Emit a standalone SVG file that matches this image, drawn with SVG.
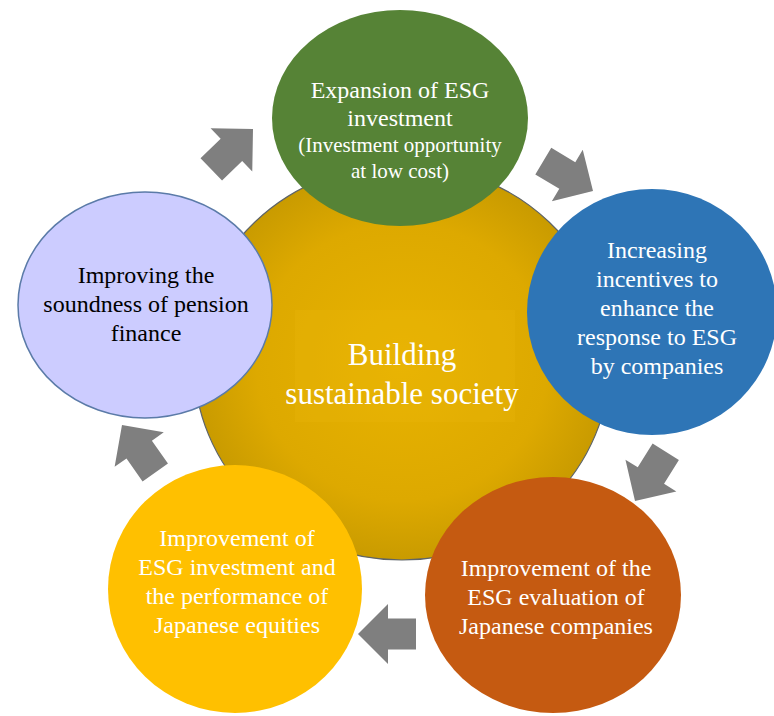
<svg xmlns="http://www.w3.org/2000/svg" width="774" height="716" viewBox="0 0 774 716">
  <defs>
    <radialGradient id="goldGrad" cx="50%" cy="50%" r="50%">
      <stop offset="0%" stop-color="#E8B300"/>
      <stop offset="70%" stop-color="#DDA900"/>
      <stop offset="100%" stop-color="#C99B00"/>
    </radialGradient>
    <path id="arrow" d="M0,0 L-30,-30 L-30,-15.5 L-58,-15.5 L-58,15.5 L-30,15.5 L-30,30 Z"/>
    <style>
      text { font-family: "Liberation Serif", "Times New Roman", serif; text-anchor: middle; }
      .w { fill: #FFFFFF; font-size: 24px; }
      .ws { fill: #FFFFFF; font-size: 21px; }
      .b { fill: #000000; font-size: 24px; }
      .big { fill: #FFFFFF; font-size: 31px; }
      .arr { fill: #7F7F7F; }
    </style>
  </defs>
  <rect width="774" height="716" fill="#FFFFFF"/>

  <g id="center">
    <ellipse cx="402" cy="362" rx="208" ry="198" fill="url(#goldGrad)" stroke="#5E6468" stroke-width="1.2"/>
    <rect x="295" y="310" width="220" height="112" fill="#EDB80A" opacity="0.25"/>
    <text class="big" x="402" y="365">Building</text>
    <text class="big" x="402" y="404">sustainable society</text>
  </g>

  <g id="node-expansion">
    <ellipse cx="400" cy="118" rx="128" ry="108" fill="#568336"/>
    <text class="w" x="400" y="98">Expansion of ESG</text>
    <text class="w" x="400" y="126">investment</text>
    <text class="ws" x="400" y="152">(Investment opportunity</text>
    <text class="ws" x="400" y="178">at low cost)</text>
  </g>

  <g id="node-incentives">
    <ellipse cx="652" cy="312" rx="125" ry="123" fill="#2E75B6"/>
    <text class="w" x="657" y="258">Increasing</text>
    <text class="w" x="657" y="287">incentives to</text>
    <text class="w" x="657" y="316">enhance the</text>
    <text class="w" x="657" y="345">response to ESG</text>
    <text class="w" x="657" y="374">by companies</text>
  </g>

  <g id="node-evaluation">
    <ellipse cx="553" cy="595" rx="128" ry="118" fill="#C55A11"/>
    <text class="w" x="556" y="576">Improvement of the</text>
    <text class="w" x="556" y="605">ESG evaluation of</text>
    <text class="w" x="556" y="634">Japanese companies</text>
  </g>

  <g id="node-performance">
    <ellipse cx="235" cy="589" rx="127" ry="124" fill="#FFC000"/>
    <text class="w" x="237" y="546">Improvement of</text>
    <text class="w" x="237" y="575">ESG investment and</text>
    <text class="w" x="237" y="604">the performance of</text>
    <text class="w" x="237" y="633">Japanese equities</text>
  </g>

  <g id="node-pension">
    <ellipse cx="145" cy="305" rx="127" ry="113" fill="#CCCCFF" stroke="#5B7BA8" stroke-width="1.5"/>
    <text class="b" x="146" y="283">Improving the</text>
    <text class="b" x="146" y="312">soundness of pension</text>
    <text class="b" x="146" y="341">finance</text>
  </g>

  <g id="connectors">
    <use href="#arrow" class="arr" transform="translate(253,129) rotate(-44)"/>
    <use href="#arrow" class="arr" transform="translate(593,191) rotate(31)"/>
    <use href="#arrow" class="arr" transform="translate(635,501) rotate(122)"/>
    <use href="#arrow" class="arr" transform="translate(358,634) rotate(180)"/>
    <use href="#arrow" class="arr" transform="translate(122,425) rotate(-125)"/>
  </g>
</svg>
